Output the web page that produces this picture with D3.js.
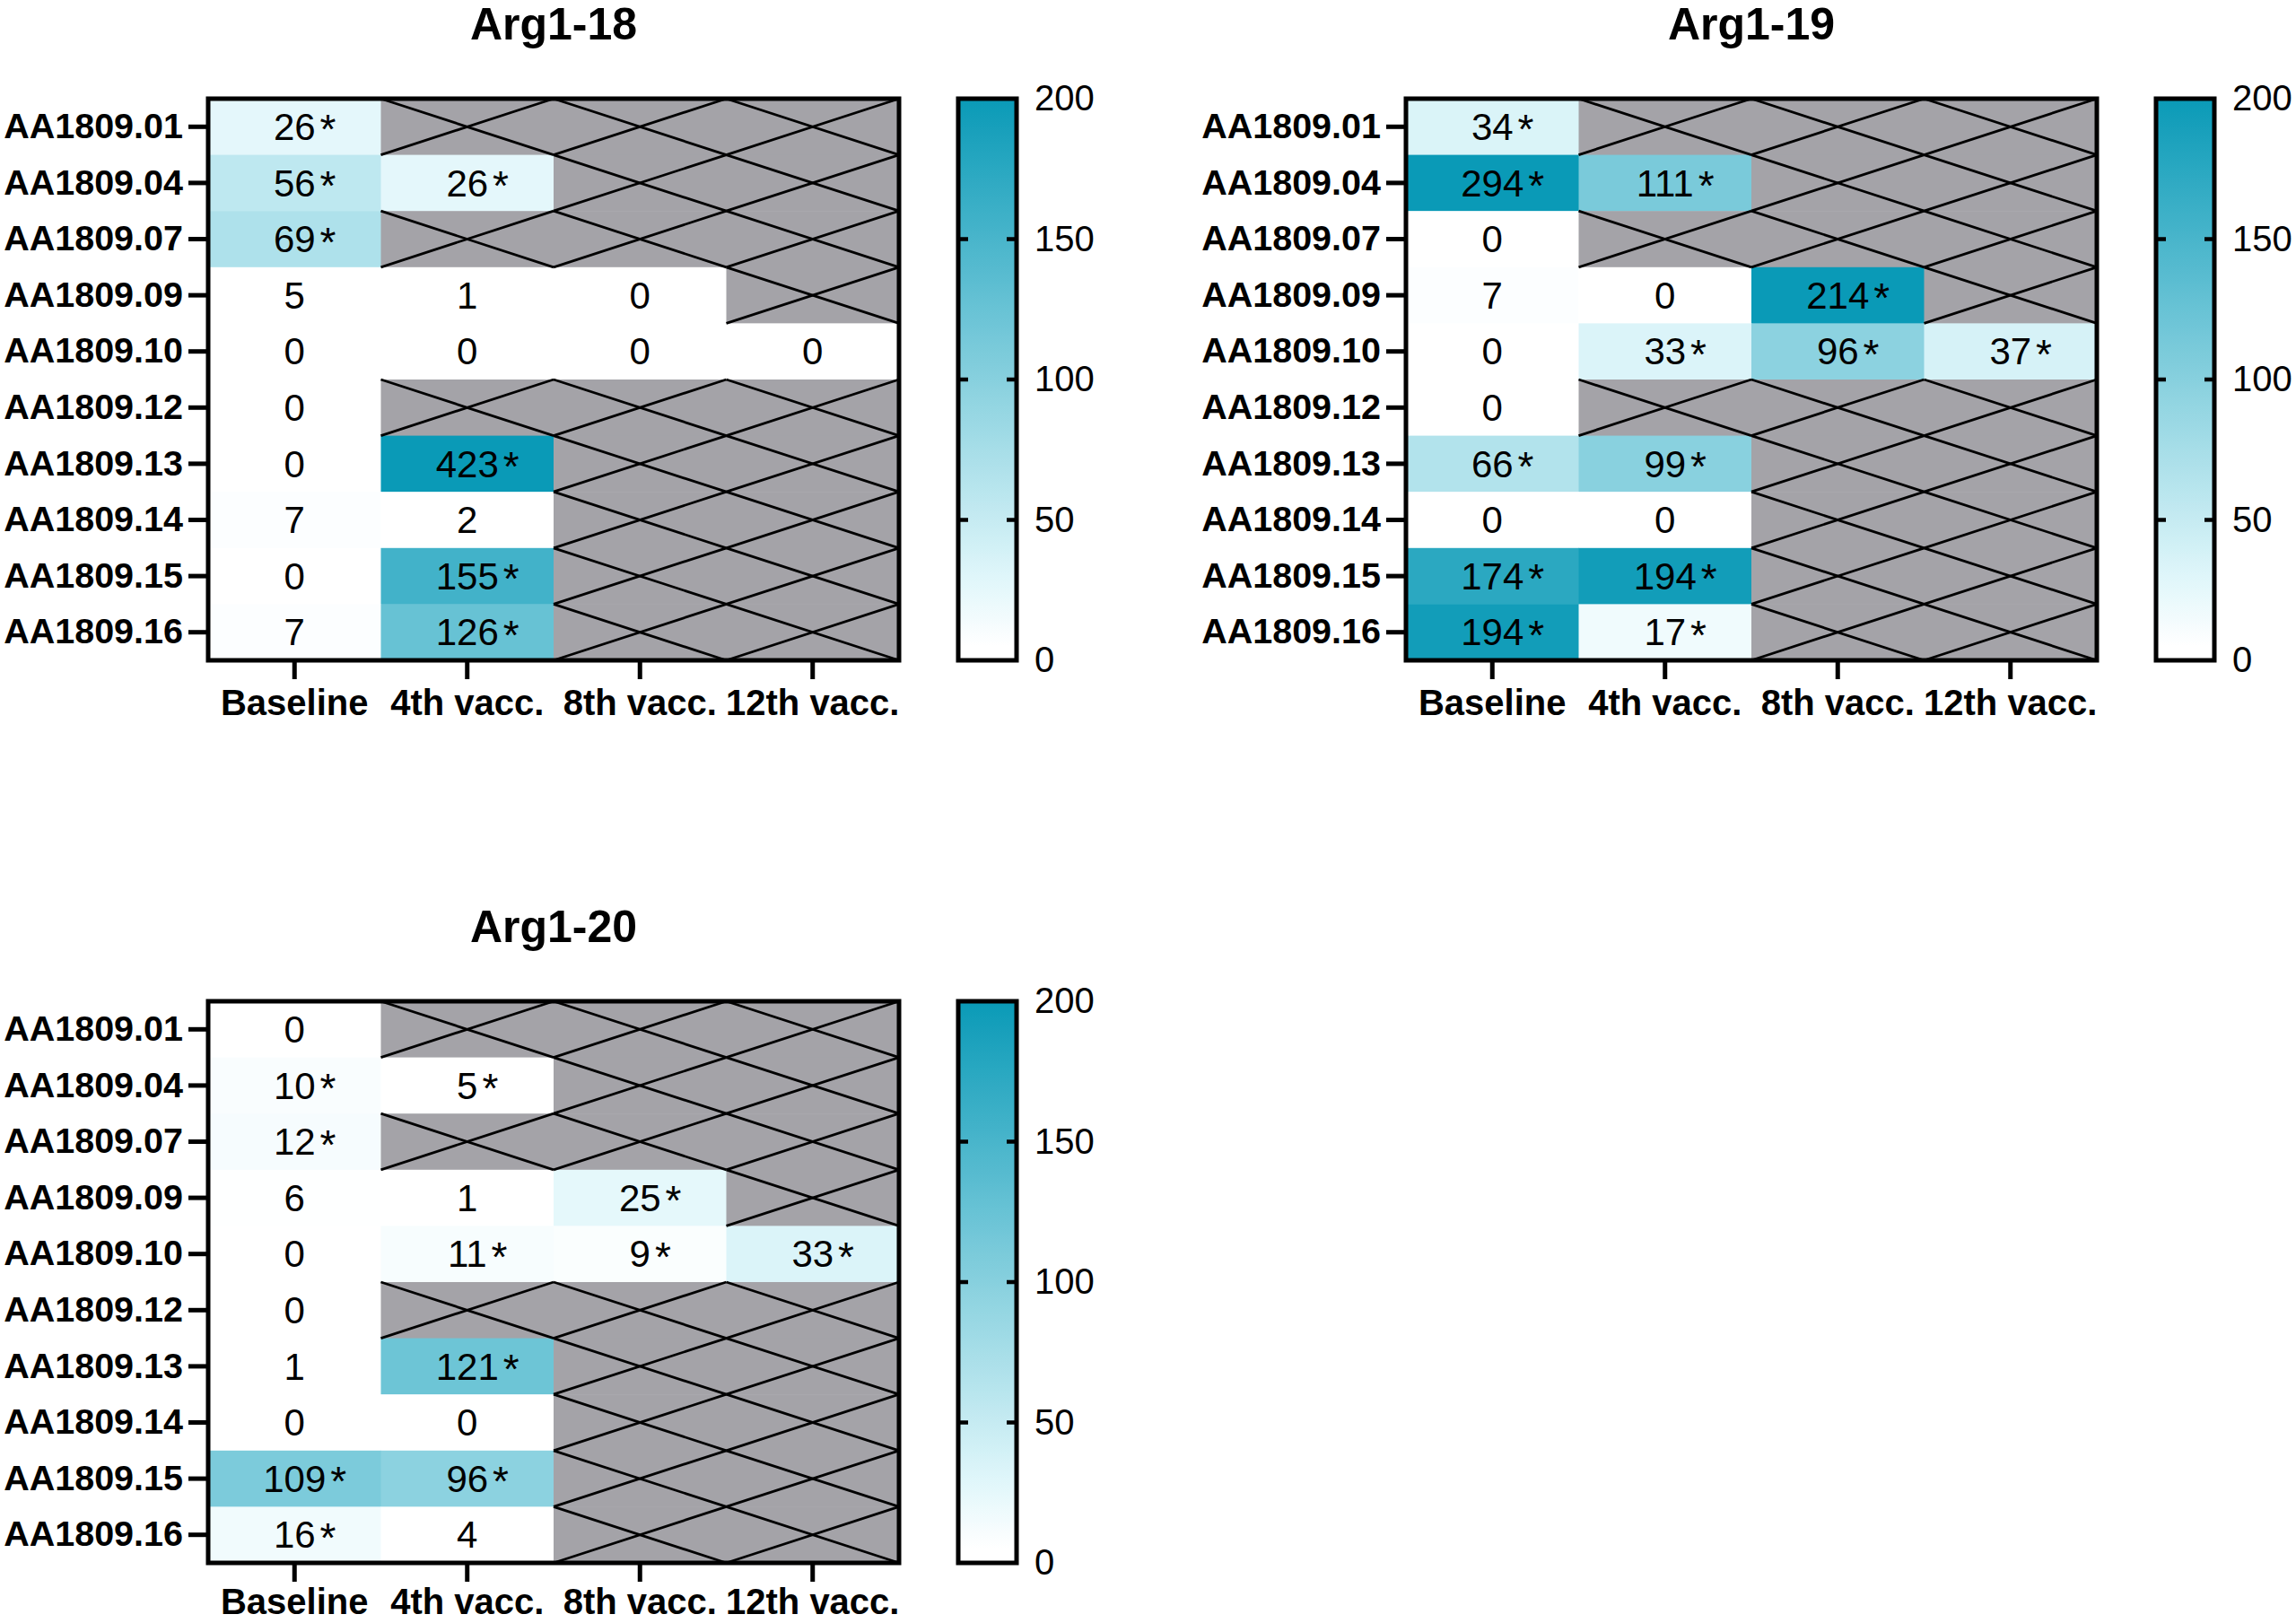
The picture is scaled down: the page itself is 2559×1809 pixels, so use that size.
<!DOCTYPE html>
<html>
<head>
<meta charset="utf-8">
<script src="https://cdn.jsdelivr.net/npm/d3@7"></script>
<style>
  html, body { margin: 0; padding: 0; background: #ffffff; }
  svg { display: block; }
  text { font-family: "Liberation Sans", Arial, Helvetica, sans-serif; fill: #000; }
</style>
</head>
<body>
<svg id="chart" width="2559" height="1809"></svg>
<script>
// ---------------- DATA ----------------
const rowLabels = ["AA1809.01","AA1809.04","AA1809.07","AA1809.09","AA1809.10",
                   "AA1809.12","AA1809.13","AA1809.14","AA1809.15","AA1809.16"];
const colLabels = ["Baseline","4th vacc.","8th vacc.","12th vacc."];
const panelTitles = ["Arg1-18","Arg1-19","Arg1-20"];
const colorTicks = [0, 50, 100, 150, 200];

// null = not measured (grey, crossed)
const arg18Values = [
  [26, null, null, null],
  [56, 26, null, null],
  [69, null, null, null],
  [5, 1, 0, null],
  [0, 0, 0, 0],
  [0, null, null, null],
  [0, 423, null, null],
  [7, 2, null, null],
  [0, 155, null, null],
  [7, 126, null, null]
];
const arg18Sig = [
  [1,0,0,0],[1,1,0,0],[1,0,0,0],[0,0,0,0],[0,0,0,0],
  [0,0,0,0],[0,1,0,0],[0,0,0,0],[0,1,0,0],[0,1,0,0]
];
const arg19Values = [
  [34, null, null, null],
  [294, 111, null, null],
  [0, null, null, null],
  [7, 0, 214, null],
  [0, 33, 96, 37],
  [0, null, null, null],
  [66, 99, null, null],
  [0, 0, null, null],
  [174, 194, null, null],
  [194, 17, null, null]
];
const arg19Sig = [
  [1,0,0,0],[1,1,0,0],[0,0,0,0],[0,0,1,0],[0,1,1,1],
  [0,0,0,0],[1,1,0,0],[0,0,0,0],[1,1,0,0],[1,1,0,0]
];
const arg20Values = [
  [0, null, null, null],
  [10, 5, null, null],
  [12, null, null, null],
  [6, 1, 25, null],
  [0, 11, 9, 33],
  [0, null, null, null],
  [1, 121, null, null],
  [0, 0, null, null],
  [109, 96, null, null],
  [16, 4, null, null]
];
const arg20Sig = [
  [0,0,0,0],[1,1,0,0],[1,0,0,0],[0,0,1,0],[0,1,1,1],
  [0,0,0,0],[0,1,0,0],[0,0,0,0],[1,1,0,0],[1,0,0,0]
];

// ---------------- LAYOUT ----------------
const svg = d3.select("#chart");
svg.append("rect").attr("width", 2559).attr("height", 1809).attr("fill", "#fff");

const plotW = 770, plotH = 626;
const panelPos = [{x: 232, y: 110, pad: 12}, {x: 1567, y: 110, pad: 12}, {x: 232, y: 1116, pad: 8}];
const panelValues = [arg18Values, arg19Values, arg20Values];
const panelSig = [arg18Sig, arg19Sig, arg20Sig];
const FONT = "\"Liberation Sans\", Arial, Helvetica, sans-serif";

const color = d3.scaleLinear()
  .domain([0, 5, 30, 200])
  .range(["#ffffff", "#ffffff", "#dff6fa", "#0a9ab7"])
  .clamp(true);

const x = d3.scaleBand().domain(colLabels).range([0, plotW]);
const y = d3.scaleBand().domain(rowLabels).range([0, plotH]);
const cScale = d3.scaleLinear().domain([0, 200]).range([plotH, 0]);

// gradient for colour bar
const defs = svg.append("defs");
const grad = defs.append("linearGradient").attr("id", "cbar")
  .attr("x1", 0).attr("y1", 1).attr("x2", 0).attr("y2", 0);
d3.range(0, 201, 5).forEach(v => {
  grad.append("stop").attr("offset", v / 200).attr("stop-color", color(v));
});

panelPos.forEach((pos, pi) => {
  const g = svg.append("g").attr("transform", `translate(${pos.x},${pos.y})`);
  const vals = panelValues[pi], sig = panelSig[pi];

  const cells = [];
  vals.forEach((row, ri) => row.forEach((v, ci) => {
    cells.push({r: rowLabels[ri], c: colLabels[ci], v: v, s: sig[ri][ci]});
  }));

  // cells
  g.selectAll("rect.cell").data(cells).enter().append("rect")
    .attr("class", "cell")
    .attr("x", d => x(d.c)).attr("y", d => y(d.r))
    .attr("width", x.bandwidth() + 0.5).attr("height", y.bandwidth() + 0.5)
    .attr("fill", d => d.v === null ? "#a4a3a8" : color(d.v));

  // crosses on missing cells
  const missing = cells.filter(d => d.v === null);
  g.selectAll("line.d1").data(missing).enter().append("line")
    .attr("x1", d => x(d.c)).attr("y1", d => y(d.r))
    .attr("x2", d => x(d.c) + x.bandwidth()).attr("y2", d => y(d.r) + y.bandwidth())
    .attr("stroke", "#000").attr("stroke-width", 2.8);
  g.selectAll("line.d2").data(missing).enter().append("line")
    .attr("x1", d => x(d.c)).attr("y1", d => y(d.r) + y.bandwidth())
    .attr("x2", d => x(d.c) + x.bandwidth()).attr("y2", d => y(d.r))
    .attr("stroke", "#000").attr("stroke-width", 2.8);

  // value labels
  const present = cells.filter(d => d.v !== null);
  const lbl = g.selectAll("g.lbl").data(present).enter().append("g").attr("class", "lbl");
  lbl.append("text")
    .attr("class", "num")
    .attr("x", d => x(d.c) + x.bandwidth() / 2)
    .attr("y", d => y(d.r) + y.bandwidth() / 2)
    .attr("dy", "0.35em")
    .attr("text-anchor", "middle")
    .style("font-size", "42px")
    .text(d => d.v);
  lbl.each(function(d) {
    if (!d.s) return;
    const sel = d3.select(this);
    const w = sel.select("text.num").node().getComputedTextLength();
    sel.append("text")
      .attr("x", x(d.c) + x.bandwidth() / 2 + w / 2 + 5)
      .attr("y", y(d.r) + y.bandwidth() / 2 + 19)
      .style("font-size", "46px")
      .text("*");
  });

  // border
  g.append("rect").attr("x", 0).attr("y", 0).attr("width", plotW).attr("height", plotH)
    .attr("fill", "none").attr("stroke", "#000").attr("stroke-width", 5);

  // axes
  const ax = g.append("g").call(d3.axisLeft(y).tickSize(22).tickPadding(6));
  ax.select(".domain").remove();
  ax.selectAll(".tick line").attr("stroke", "#000").attr("stroke-width", 5);
  ax.selectAll(".tick text").style("font-size", "39.5px").style("font-weight", "bold")
    .style("font-family", FONT).attr("fill", "#000");

  const bx = g.append("g").attr("transform", `translate(0,${plotH})`)
    .call(d3.axisBottom(x).tickSize(21).tickPadding(pos.pad));
  bx.select(".domain").remove();
  bx.selectAll(".tick line").attr("stroke", "#000").attr("stroke-width", 5);
  bx.selectAll(".tick text").style("font-size", "40px").style("font-weight", "bold")
    .style("font-family", FONT).attr("fill", "#000");

  // title
  g.append("text").attr("x", plotW / 2).attr("y", -66)
    .attr("text-anchor", "middle")
    .style("font-size", "50px").style("font-weight", "bold")
    .text(panelTitles[pi]);

  // colour bar
  const cbX = plotW + 66, cbW = 65;
  const cb = g.append("g").attr("transform", `translate(${cbX},0)`);
  cb.append("rect").attr("x", 0).attr("y", 0).attr("width", cbW).attr("height", plotH)
    .attr("fill", "url(#cbar)").attr("stroke", "#000").attr("stroke-width", 5);
  const inner = colorTicks.filter(t => t > 0 && t < 200);
  cb.selectAll("line.tl").data(inner).enter().append("line")
    .attr("x1", 0).attr("x2", 11).attr("y1", d => cScale(d)).attr("y2", d => cScale(d))
    .attr("stroke", "#000").attr("stroke-width", 4.5);
  cb.selectAll("line.tr").data(inner).enter().append("line")
    .attr("x1", cbW - 11).attr("x2", cbW).attr("y1", d => cScale(d)).attr("y2", d => cScale(d))
    .attr("stroke", "#000").attr("stroke-width", 4.5);
  const cax = cb.append("g").attr("transform", `translate(${cbW},0)`)
    .call(d3.axisRight(cScale).tickValues(colorTicks).tickSize(0).tickPadding(20));
  cax.select(".domain").remove();
  cax.selectAll(".tick text").style("font-size", "40px").style("font-family", FONT).attr("fill", "#000");
});
</script>
</body>
</html>
